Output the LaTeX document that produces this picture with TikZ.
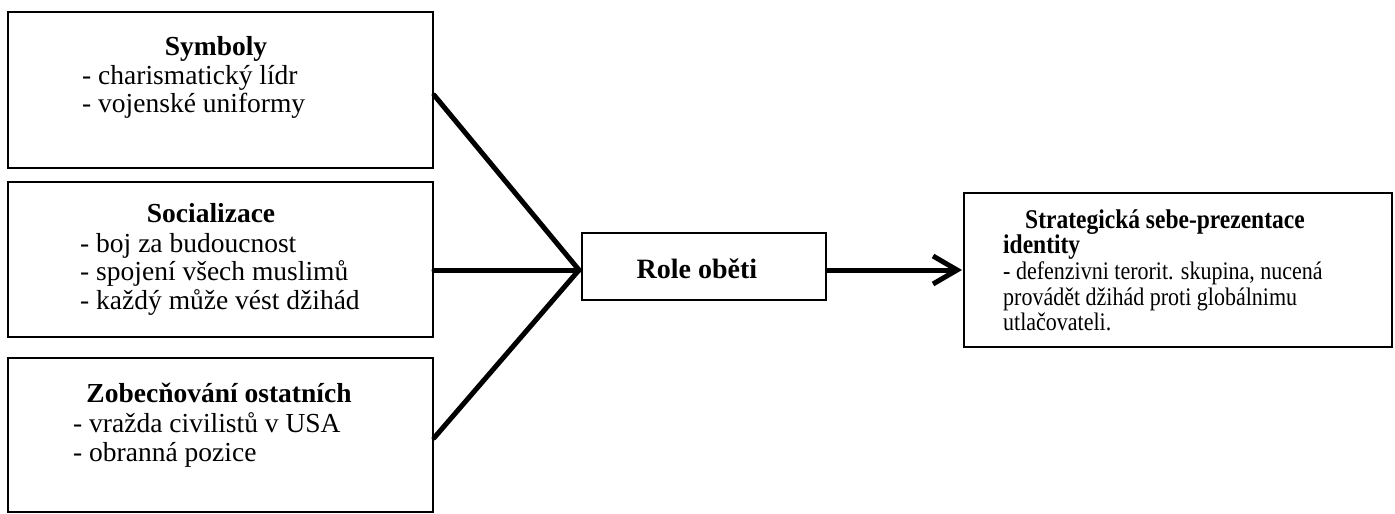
\documentclass[tikz,border=0pt]{standalone}
\usepackage{fontspec}
\setmainfont{Liberation Serif}
\usetikzlibrary{arrows.meta}
\newcommand{\vstr}[1]{\scalebox{1}[1.15]{#1}}
\begin{document}
\begin{tikzpicture}[x=1pt,y=-1pt,
  box/.style={draw, line width=2pt, inner sep=0pt, fill=white},
  conn/.style={line width=5pt, line cap=round, line join=round},
  item/.style={anchor=base west, inner sep=0pt, font=\fontsize{27.5}{30}\selectfont},
  ttl/.style={anchor=base, inner sep=0pt, font=\fontsize{27.5}{30}\selectfont\bfseries},
  ritem/.style={anchor=base west, inner sep=0pt, font=\fontsize{22}{24}\selectfont},
  rttl/.style={anchor=base west, inner sep=0pt, font=\fontsize{23.5}{26}\selectfont\bfseries}]
\useasboundingbox (0,0) rectangle (1395,514);
\fill[white] (0,0) rectangle (1395,514);
% boxes
\node[box, minimum width=425pt, minimum height=156pt] (b1) at (220.5,90) {};
\node[box, minimum width=425pt, minimum height=155pt] (b2) at (220.5,259.5) {};
\node[box, minimum width=425pt, minimum height=154pt] (b3) at (220.5,435) {};
\node[box, minimum width=244pt, minimum height=67pt] (role) at (704,266.5) {};
\node[box, minimum width=428pt, minimum height=154pt] (rb) at (1178,270) {};
% texts box 1
\node[ttl] (t1) at (216,55) {Symboly};
\node[item] (t1a) at (82,84) {- charismatický lídr};
\node[item] (t1b) at (82,112) {- vojenské uniformy};
% box 2
\node[ttl] (t2) at (211,222) {Socializace};
\node[item] (t2a) at (80,252) {- boj za budoucnost};
\node[item] (t2b) at (80,280) {- spojení všech muslimů};
\node[item] (t2c) at (80,309) {- každý může vést džihád};
% box 3
\node[ttl] (t3) at (219,402) {Zobecňování ostatních};
\node[item] (t3a) at (73,432) {- vražda civilistů v USA};
\node[item] (t3b) at (73,461) {- obranná pozice};
% role
\node[anchor=base, inner sep=0pt, font=\fontsize{28}{30}\selectfont\bfseries] (tr) at (697,278) {Role oběti};
% right box
\node[rttl] (r1) at (1025,228) {\vstr{Strategická sebe-prezentace}};
\node[rttl] (r2) at (1003,253) {\vstr{identity}};
\node[ritem] (r3) at (1003,279) {\vstr{- defenzivni terorit. skupina, nucená}};
\node[ritem] (r4) at (1003,305) {\vstr{provádět džihád proti globálnimu}};
\node[ritem] (r5) at (1003,330) {\vstr{utlačovateli.}};
% connectors
\coordinate (j) at ([xshift=-2pt,yshift=-3.5pt]role.west);
\draw[conn] ([yshift=-5pt]b1.east) -- (j);
\draw[conn] ([yshift=-10.5pt]b2.east) -- (j);
\draw[conn] ([yshift=-3pt]b3.east) -- (j);
\draw[conn, line cap=butt, -{Straight Barb[length=24pt,width=28pt,line width=5pt]}] (role.east |- rb.west) -- ([xshift=-1pt]rb.west);
\end{tikzpicture}
\end{document}
